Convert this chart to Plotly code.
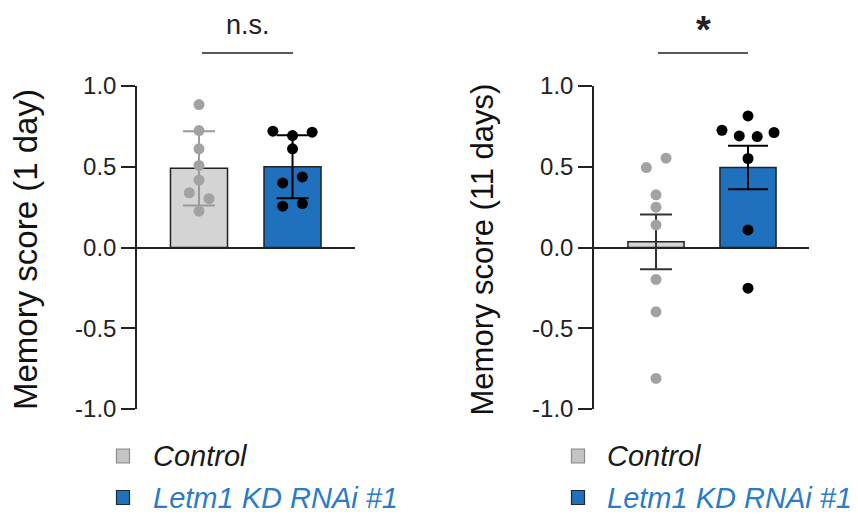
import plotly.graph_objects as go

W, H = 858, 518

# ---------------- data ----------------
groups = ["Control", "Letm1 KD RNAi #1"]
ytick_vals = [-1, -0.5, 0, 0.5, 1]
ytick_text = ["-1.0", "-0.5", "0.0", "0.5", "1.0"]

# Memory score (1 day)
day1_means = [0.49, 0.50]
day1_err = [0.23, 0.195]
day1_ctrl = [0.885, 0.724, 0.611, 0.508, 0.417, 0.339, 0.302, 0.225]
day1_ctrl_jit = [0, 0, 0, 0, 0, -0.104, 0.107, 0]
day1_kd = [0.720, 0.693, 0.714, 0.611, 0.400, 0.437, 0.256, 0.272]
day1_kd_jit = [-0.21, 0, 0.21, 0, -0.105, 0.105, -0.105, 0.105]
day1_sig = "n.s."

# Memory score (11 days)
day11_means = [0.035, 0.495]
day11_err = [0.17, 0.135]
day11_ctrl = [0.495, 0.553, 0.326, 0.25, 0.14, -0.198, -0.398, -0.811]
day11_ctrl_jit = [-0.105, 0.109, 0, 0, 0, 0, 0, 0]
day11_kd = [0.815, 0.726, 0.691, 0.687, 0.712, 0.551, 0.109, -0.252]
day11_kd_jit = [0, -0.283, -0.095, 0.10, 0.283, 0, 0, 0]
day11_sig = "*"

# ---------------- styles ----------------
FONT = "Arial, 'Liberation Sans', sans-serif"
DARK = "#222222"
CTRL_FILL = "#d4d4d4"
KD_FILL = "#1f70bd"
CTRL_DOT = "#a2a2a5"
KD_DOT = "#000000"
KD_TEXT = "#2a7cc6"


def px(x):
    return x / W


def py(y):
    return 1 - y / H


fig = go.Figure()

panels = [
    dict(xa="x", ya="y", means=day1_means, err=day1_err,
         ctrl=day1_ctrl, ctrl_jit=day1_ctrl_jit, kd=day1_kd, kd_jit=day1_kd_jit,
         ctrl_err_color="#9a9a9c", caps=[16, 16]),
    dict(xa="x2", ya="y2", means=day11_means, err=day11_err,
         ctrl=day11_ctrl, ctrl_jit=day11_ctrl_jit, kd=day11_kd, kd_jit=day11_kd_jit,
         ctrl_err_color="#333333", caps=[16, 20]),
]

for p in panels:
    fills = [CTRL_FILL, KD_FILL]
    errc = [p["ctrl_err_color"], "#000000"]
    for i in range(2):
        fig.add_trace(go.Bar(
            x=[i], y=[p["means"][i]], width=0.61,
            marker=dict(color=fills[i], line=dict(color=DARK, width=1.5)),
            error_y=dict(type="data", array=[p["err"][i]], visible=True,
                         color=errc[i], thickness=2, width=p["caps"][i]),
            xaxis=p["xa"], yaxis=p["ya"], showlegend=False, name=groups[i],
        ))
    fig.add_trace(go.Scatter(
        x=[0 + j for j in p["ctrl_jit"]], y=p["ctrl"], mode="markers",
        marker=dict(color=CTRL_DOT, size=11), cliponaxis=False,
        xaxis=p["xa"], yaxis=p["ya"], showlegend=False, name=groups[0],
    ))
    fig.add_trace(go.Scatter(
        x=[1 + j for j in p["kd_jit"]], y=p["kd"], mode="markers",
        marker=dict(color=KD_DOT, size=11), cliponaxis=False,
        xaxis=p["xa"], yaxis=p["ya"], showlegend=False, name=groups[1],
    ))

ydom = [py(409), py(86)]
yax = dict(range=[-1, 1], domain=ydom, showgrid=False, zeroline=True,
           zerolinecolor=DARK, zerolinewidth=1.5, showline=True, automargin=False,
           linecolor=DARK, linewidth=1.5, ticks="outside", ticklen=14,
           tickwidth=1.5, tickcolor=DARK, tickvals=ytick_vals,
           ticktext=ytick_text, tickfont=dict(family=FONT, size=24, color=DARK))

fig.update_layout(
    width=W, height=H, autosize=False,
    margin=dict(l=0, r=0, t=0, b=0, pad=0, autoexpand=False),
    paper_bgcolor="white", plot_bgcolor="white", barmode="overlay",
    showlegend=False,
    font=dict(family=FONT, color=DARK),
    xaxis=dict(domain=[px(137), px(355)], range=[-0.663, 1.668], visible=False,
               automargin=False),
    xaxis2=dict(domain=[px(594), px(809)], range=[-0.674, 1.663], visible=False,
                automargin=False),
    yaxis=dict(anchor="x", **yax),
    yaxis2=dict(anchor="x2", **yax),
)

annotations = []
shapes = []

# y-axis titles
annotations.append(dict(text="Memory score (1 day)", x=px(26), y=py(250),
                        xref="paper", yref="paper", textangle=-90, showarrow=False,
                        font=dict(family=FONT, size=33, color="#111111"),
                        xanchor="center", yanchor="middle"))
annotations.append(dict(text="Memory score (11 days)", x=px(482.5), y=py(250),
                        xref="paper", yref="paper", textangle=-90, showarrow=False,
                        font=dict(family=FONT, size=31, color="#111111"),
                        xanchor="center", yanchor="middle"))

# significance
annotations.append(dict(text=day1_sig, x=px(248), y=py(25), xref="paper", yref="paper",
                        showarrow=False, font=dict(family=FONT, size=27, color=DARK),
                        xanchor="center", yanchor="middle"))
shapes.append(dict(type="line", xref="paper", yref="paper", x0=px(202), x1=px(293),
                   y0=py(53), y1=py(53), line=dict(color=DARK, width=1.5)))
annotations.append(dict(text="<b>" + day11_sig + "</b>", x=px(703), y=py(30), xref="paper",
                        yref="paper", showarrow=False,
                        font=dict(family=FONT, size=38, color=DARK),
                        xanchor="center", yanchor="middle"))
shapes.append(dict(type="line", xref="paper", yref="paper", x0=px(658), x1=px(748),
                   y0=py(53), y1=py(53), line=dict(color=DARK, width=1.5)))

# legends
for sx, tx in [(123, 151), (578, 605)]:
    for (cy, fill, border, label, tcol) in [
        (456, "#c4c4c6", "#8a8a8c", groups[0], "#1a1a1a"),
        (497.5, KD_FILL, "#1b2a3a", groups[1], KD_TEXT),
    ]:
        shapes.append(dict(type="rect", xref="paper", yref="paper",
                           x0=px(sx - 6.5), x1=px(sx + 6.5), y0=py(cy + 7), y1=py(cy - 7),
                           fillcolor=fill, line=dict(color=border, width=1.2)))
        annotations.append(dict(text="<i>" + label + "</i>", x=px(tx), y=py(cy),
                                xref="paper", yref="paper", showarrow=False,
                                font=dict(family=FONT, size=29, color=tcol),
                                xanchor="left", yanchor="middle"))

fig.update_layout(annotations=annotations, shapes=shapes)
fig.write_html("out.html")
